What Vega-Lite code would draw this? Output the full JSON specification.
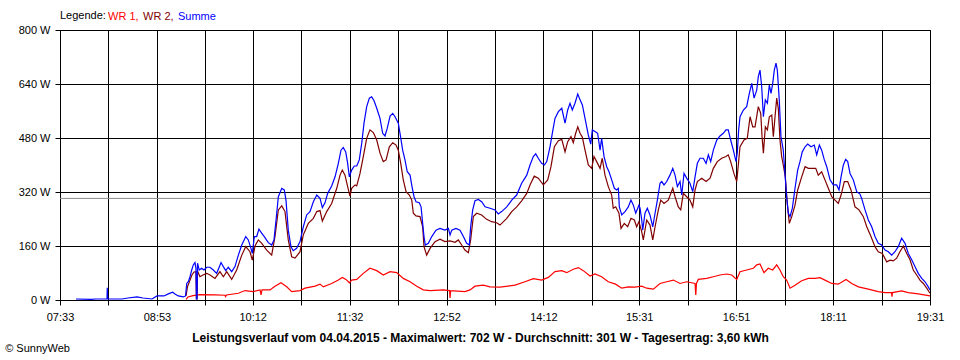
{
  "$schema": "https://vega.github.io/schema/vega-lite/v6.json",
  "width": 870,
  "height": 270,
  "autosize": {"type": "none"},
  "padding": {"left": 60, "top": 30, "right": 30, "bottom": 60},
  "background": "white",
  "config": {
    "font": "Liberation Sans",
    "view": {"stroke": "black", "strokeWidth": 1},
    "axis": {"labelFont": "Liberation Sans", "labelFontSize": 11, "labelColor": "black", "gridColor": "black", "gridOpacity": 1, "gridWidth": 1, "domainColor": "black", "tickColor": "black", "tickSize": 5, "tickWidth": 1, "domainWidth": 1}
  },
  "title": {"text": "© SunnyWeb", "orient": "bottom", "anchor": "start", "frame": "bounds", "fontSize": 11, "fontWeight": "normal", "font": "Liberation Sans", "color": "black", "offset": 0, "dx": -13},
  "layer": [
    {
      "data": {"values": [{"avg": 301}]},
      "mark": {"type": "rule", "color": "#8c8c8c", "strokeWidth": 1},
      "encoding": {"y": {"field": "avg", "type": "quantitative", "scale": {"domain": [0, 800]}}}
    },
    {
      "data": {"values": [
{"s":"WR 1","t":557.0,"w":2},{"s":"WR 1","t":558.6,"w":9},{"s":"WR 1","t":562.8,"w":13},{"s":"WR 1","t":568.5,"w":16},{"s":"WR 1","t":580.9,"w":15},{"s":"WR 1","t":589.2,"w":14},{"s":"WR 1","t":589.6,"w":10},{"s":"WR 1","t":590.4,"w":15},{"s":"WR 1","t":600.2,"w":20},{"s":"WR 1","t":605.7,"w":28},{"s":"WR 1","t":612.5,"w":25},{"s":"WR 1","t":618.1,"w":30},{"s":"WR 1","t":618.9,"w":15},{"s":"WR 1","t":619.7,"w":30},{"s":"WR 1","t":626.3,"w":30},{"s":"WR 1","t":630.4,"w":41},{"s":"WR 1","t":635.4,"w":51},{"s":"WR 1","t":640.1,"w":39},{"s":"WR 1","t":644.2,"w":25},{"s":"WR 1","t":651.1,"w":28},{"s":"WR 1","t":655.2,"w":35},{"s":"WR 1","t":663.5,"w":41},{"s":"WR 1","t":667.6,"w":47},{"s":"WR 1","t":670.3,"w":39},{"s":"WR 1","t":677.2,"w":49},{"s":"WR 1","t":682.7,"w":59},{"s":"WR 1","t":686.0,"w":67},{"s":"WR 1","t":689.0,"w":61},{"s":"WR 1","t":691.8,"w":51},{"s":"WR 1","t":693.7,"w":59},{"s":"WR 1","t":697.9,"w":61},{"s":"WR 1","t":703.3,"w":79},{"s":"WR 1","t":708.8,"w":94},{"s":"WR 1","t":714.4,"w":87},{"s":"WR 1","t":719.8,"w":74},{"s":"WR 1","t":725.4,"w":84},{"s":"WR 1","t":730.9,"w":81},{"s":"WR 1","t":736.3,"w":64},{"s":"WR 1","t":741.9,"w":54},{"s":"WR 1","t":747.4,"w":41},{"s":"WR 1","t":752.8,"w":30},{"s":"WR 1","t":758.4,"w":28},{"s":"WR 1","t":769.3,"w":30},{"s":"WR 1","t":774.5,"w":28},{"s":"WR 1","t":774.9,"w":6},{"s":"WR 1","t":775.4,"w":28},{"s":"WR 1","t":787.2,"w":25},{"s":"WR 1","t":791.4,"w":30},{"s":"WR 1","t":795.5,"w":41},{"s":"WR 1","t":802.4,"w":44},{"s":"WR 1","t":807.9,"w":39},{"s":"WR 1","t":816.1,"w":38},{"s":"WR 1","t":828.5,"w":44},{"s":"WR 1","t":836.7,"w":54},{"s":"WR 1","t":843.6,"w":63},{"s":"WR 1","t":850.5,"w":59},{"s":"WR 1","t":856.0,"w":67},{"s":"WR 1","t":861.5,"w":84},{"s":"WR 1","t":867.1,"w":87},{"s":"WR 1","t":871.2,"w":81},{"s":"WR 1","t":876.6,"w":91},{"s":"WR 1","t":880.8,"w":96},{"s":"WR 1","t":884.9,"w":87},{"s":"WR 1","t":890.4,"w":71},{"s":"WR 1","t":894.5,"w":77},{"s":"WR 1","t":900.0,"w":69},{"s":"WR 1","t":905.5,"w":54},{"s":"WR 1","t":911.5,"w":47},{"s":"WR 1","t":916.6,"w":35},{"s":"WR 1","t":922.0,"w":39},{"s":"WR 1","t":927.5,"w":38},{"s":"WR 1","t":933.1,"w":41},{"s":"WR 1","t":937.2,"w":35},{"s":"WR 1","t":942.7,"w":32},{"s":"WR 1","t":948.2,"w":49},{"s":"WR 1","t":953.7,"w":54},{"s":"WR 1","t":959.2,"w":59},{"s":"WR 1","t":964.7,"w":49},{"s":"WR 1","t":970.2,"w":54},{"s":"WR 1","t":977.1,"w":49},{"s":"WR 1","t":977.7,"w":15},{"s":"WR 1","t":978.3,"w":50},{"s":"WR 1","t":979.8,"w":61},{"s":"WR 1","t":986.7,"w":64},{"s":"WR 1","t":992.2,"w":69},{"s":"WR 1","t":997.7,"w":74},{"s":"WR 1","t":1003.2,"w":77},{"s":"WR 1","t":1007.4,"w":74},{"s":"WR 1","t":1011.5,"w":61},{"s":"WR 1","t":1014.2,"w":84},{"s":"WR 1","t":1019.7,"w":89},{"s":"WR 1","t":1025.2,"w":94},{"s":"WR 1","t":1028.0,"w":104},{"s":"WR 1","t":1030.7,"w":107},{"s":"WR 1","t":1034.0,"w":81},{"s":"WR 1","t":1037.5,"w":94},{"s":"WR 1","t":1041.2,"w":89},{"s":"WR 1","t":1044.5,"w":104},{"s":"WR 1","t":1047.2,"w":89},{"s":"WR 1","t":1049.9,"w":69},{"s":"WR 1","t":1052.7,"w":59},{"s":"WR 1","t":1055.5,"w":35},{"s":"WR 1","t":1059.6,"w":44},{"s":"WR 1","t":1065.1,"w":57},{"s":"WR 1","t":1070.6,"w":64},{"s":"WR 1","t":1076.1,"w":64},{"s":"WR 1","t":1080.2,"w":66},{"s":"WR 1","t":1084.3,"w":59},{"s":"WR 1","t":1089.9,"w":49},{"s":"WR 1","t":1095.3,"w":47},{"s":"WR 1","t":1101.7,"w":61},{"s":"WR 1","t":1106.4,"w":49},{"s":"WR 1","t":1111.9,"w":39},{"s":"WR 1","t":1120.1,"w":32},{"s":"WR 1","t":1128.3,"w":25},{"s":"WR 1","t":1133.9,"w":22},{"s":"WR 1","t":1139.2,"w":22},{"s":"WR 1","t":1139.6,"w":10},{"s":"WR 1","t":1140.0,"w":22},{"s":"WR 1","t":1147.6,"w":27},{"s":"WR 1","t":1153.1,"w":22},{"s":"WR 1","t":1161.3,"w":18},{"s":"WR 1","t":1171.0,"w":12},
{"s":"WR 2","t":557.0,"w":12},{"s":"WR 2","t":558.2,"w":39},{"s":"WR 2","t":560.3,"w":59},{"s":"WR 2","t":561.9,"w":74},{"s":"WR 2","t":563.6,"w":83},{"s":"WR 2","t":565.2,"w":84},{"s":"WR 2","t":565.6,"w":3},{"s":"WR 2","t":566.1,"w":3},{"s":"WR 2","t":566.5,"w":86},{"s":"WR 2","t":568.5,"w":69},{"s":"WR 2","t":571.0,"w":74},{"s":"WR 2","t":574.1,"w":79},{"s":"WR 2","t":576.8,"w":74},{"s":"WR 2","t":580.9,"w":64},{"s":"WR 2","t":585.0,"w":84},{"s":"WR 2","t":587.8,"w":69},{"s":"WR 2","t":590.6,"w":84},{"s":"WR 2","t":594.7,"w":61},{"s":"WR 2","t":598.8,"w":89},{"s":"WR 2","t":603.0,"w":133},{"s":"WR 2","t":606.3,"w":158},{"s":"WR 2","t":609.8,"w":143},{"s":"WR 2","t":611.7,"w":118},{"s":"WR 2","t":614.0,"w":161},{"s":"WR 2","t":616.7,"w":178},{"s":"WR 2","t":619.5,"w":168},{"s":"WR 2","t":623.6,"w":148},{"s":"WR 2","t":627.7,"w":133},{"s":"WR 2","t":630.4,"w":188},{"s":"WR 2","t":633.2,"w":267},{"s":"WR 2","t":636.0,"w":279},{"s":"WR 2","t":638.7,"w":262},{"s":"WR 2","t":641.4,"w":178},{"s":"WR 2","t":644.2,"w":128},{"s":"WR 2","t":647.0,"w":124},{"s":"WR 2","t":651.1,"w":143},{"s":"WR 2","t":653.8,"w":193},{"s":"WR 2","t":657.9,"w":227},{"s":"WR 2","t":662.1,"w":242},{"s":"WR 2","t":664.9,"w":262},{"s":"WR 2","t":667.6,"w":265},{"s":"WR 2","t":669.5,"w":234},{"s":"WR 2","t":673.1,"w":262},{"s":"WR 2","t":677.2,"w":286},{"s":"WR 2","t":681.4,"w":331},{"s":"WR 2","t":684.1,"w":370},{"s":"WR 2","t":686.0,"w":385},{"s":"WR 2","t":688.2,"w":370},{"s":"WR 2","t":690.4,"w":336},{"s":"WR 2","t":692.3,"w":308},{"s":"WR 2","t":693.7,"w":331},{"s":"WR 2","t":696.5,"w":341},{"s":"WR 2","t":697.9,"w":338},{"s":"WR 2","t":700.6,"w":375},{"s":"WR 2","t":703.3,"w":425},{"s":"WR 2","t":706.1,"w":479},{"s":"WR 2","t":708.8,"w":504},{"s":"WR 2","t":711.6,"w":496},{"s":"WR 2","t":714.4,"w":474},{"s":"WR 2","t":717.1,"w":435},{"s":"WR 2","t":719.8,"w":410},{"s":"WR 2","t":722.1,"w":415},{"s":"WR 2","t":724.8,"w":454},{"s":"WR 2","t":727.6,"w":466},{"s":"WR 2","t":730.3,"w":459},{"s":"WR 2","t":732.2,"w":444},{"s":"WR 2","t":734.2,"w":405},{"s":"WR 2","t":736.3,"w":356},{"s":"WR 2","t":738.6,"w":321},{"s":"WR 2","t":741.3,"w":311},{"s":"WR 2","t":743.3,"w":296},{"s":"WR 2","t":744.6,"w":257},{"s":"WR 2","t":746.8,"w":249},{"s":"WR 2","t":750.1,"w":247},{"s":"WR 2","t":752.3,"w":217},{"s":"WR 2","t":753.4,"w":158},{"s":"WR 2","t":755.6,"w":133},{"s":"WR 2","t":758.4,"w":153},{"s":"WR 2","t":762.5,"w":173},{"s":"WR 2","t":766.6,"w":180},{"s":"WR 2","t":770.7,"w":173},{"s":"WR 2","t":774.9,"w":175},{"s":"WR 2","t":779.0,"w":171},{"s":"WR 2","t":781.7,"w":178},{"s":"WR 2","t":784.5,"w":163},{"s":"WR 2","t":787.2,"w":148},{"s":"WR 2","t":790.0,"w":140},{"s":"WR 2","t":791.9,"w":178},{"s":"WR 2","t":794.1,"w":247},{"s":"WR 2","t":796.9,"w":257},{"s":"WR 2","t":801.0,"w":252},{"s":"WR 2","t":805.1,"w":239},{"s":"WR 2","t":809.3,"w":232},{"s":"WR 2","t":813.4,"w":229},{"s":"WR 2","t":816.1,"w":222},{"s":"WR 2","t":821.7,"w":242},{"s":"WR 2","t":825.8,"w":262},{"s":"WR 2","t":829.9,"w":276},{"s":"WR 2","t":834.0,"w":294},{"s":"WR 2","t":838.2,"w":316},{"s":"WR 2","t":840.9,"w":341},{"s":"WR 2","t":844.4,"w":367},{"s":"WR 2","t":847.7,"w":361},{"s":"WR 2","t":851.9,"w":341},{"s":"WR 2","t":855.5,"w":356},{"s":"WR 2","t":858.2,"w":395},{"s":"WR 2","t":861.0,"w":454},{"s":"WR 2","t":864.3,"w":472},{"s":"WR 2","t":867.1,"w":476},{"s":"WR 2","t":869.8,"w":439},{"s":"WR 2","t":872.0,"w":469},{"s":"WR 2","t":874.7,"w":484},{"s":"WR 2","t":876.6,"w":466},{"s":"WR 2","t":878.6,"w":494},{"s":"WR 2","t":880.3,"w":513},{"s":"WR 2","t":882.2,"w":494},{"s":"WR 2","t":884.1,"w":482},{"s":"WR 2","t":886.3,"w":444},{"s":"WR 2","t":889.0,"w":400},{"s":"WR 2","t":891.8,"w":390},{"s":"WR 2","t":893.7,"w":425},{"s":"WR 2","t":895.9,"w":410},{"s":"WR 2","t":898.7,"w":390},{"s":"WR 2","t":900.5,"w":420},{"s":"WR 2","t":902.8,"w":370},{"s":"WR 2","t":905.5,"w":336},{"s":"WR 2","t":908.3,"w":311},{"s":"WR 2","t":909.6,"w":272},{"s":"WR 2","t":911.6,"w":276},{"s":"WR 2","t":914.3,"w":257},{"s":"WR 2","t":916.0,"w":212},{"s":"WR 2","t":918.7,"w":227},{"s":"WR 2","t":921.5,"w":217},{"s":"WR 2","t":924.2,"w":242},{"s":"WR 2","t":927.0,"w":237},{"s":"WR 2","t":928.9,"w":217},{"s":"WR 2","t":930.8,"w":232},{"s":"WR 2","t":933.1,"w":202},{"s":"WR 2","t":934.4,"w":178},{"s":"WR 2","t":937.2,"w":237},{"s":"WR 2","t":939.9,"w":222},{"s":"WR 2","t":942.2,"w":178},{"s":"WR 2","t":944.1,"w":217},{"s":"WR 2","t":946.8,"w":267},{"s":"WR 2","t":948.8,"w":296},{"s":"WR 2","t":951.5,"w":286},{"s":"WR 2","t":955.0,"w":296},{"s":"WR 2","t":958.7,"w":331},{"s":"WR 2","t":960.6,"w":306},{"s":"WR 2","t":963.3,"w":276},{"s":"WR 2","t":965.3,"w":267},{"s":"WR 2","t":967.4,"w":316},{"s":"WR 2","t":970.2,"w":306},{"s":"WR 2","t":972.9,"w":296},{"s":"WR 2","t":975.2,"w":276},{"s":"WR 2","t":977.1,"w":326},{"s":"WR 2","t":979.0,"w":351},{"s":"WR 2","t":982.6,"w":361},{"s":"WR 2","t":986.2,"w":351},{"s":"WR 2","t":989.5,"w":361},{"s":"WR 2","t":992.2,"w":390},{"s":"WR 2","t":995.5,"w":410},{"s":"WR 2","t":999.1,"w":420},{"s":"WR 2","t":1002.6,"w":425},{"s":"WR 2","t":1004.5,"w":430},{"s":"WR 2","t":1006.5,"w":410},{"s":"WR 2","t":1009.2,"w":375},{"s":"WR 2","t":1011.5,"w":351},{"s":"WR 2","t":1012.8,"w":400},{"s":"WR 2","t":1014.2,"w":454},{"s":"WR 2","t":1017.5,"w":474},{"s":"WR 2","t":1020.2,"w":479},{"s":"WR 2","t":1022.5,"w":543},{"s":"WR 2","t":1024.7,"w":513},{"s":"WR 2","t":1026.6,"w":513},{"s":"WR 2","t":1029.3,"w":573},{"s":"WR 2","t":1031.3,"w":553},{"s":"WR 2","t":1032.4,"w":484},{"s":"WR 2","t":1033.5,"w":435},{"s":"WR 2","t":1035.1,"w":513},{"s":"WR 2","t":1036.8,"w":504},{"s":"WR 2","t":1038.4,"w":543},{"s":"WR 2","t":1040.4,"w":548},{"s":"WR 2","t":1041.7,"w":484},{"s":"WR 2","t":1043.1,"w":543},{"s":"WR 2","t":1044.5,"w":598},{"s":"WR 2","t":1045.8,"w":568},{"s":"WR 2","t":1047.2,"w":474},{"s":"WR 2","t":1048.6,"w":425},{"s":"WR 2","t":1049.9,"w":400},{"s":"WR 2","t":1051.6,"w":365},{"s":"WR 2","t":1053.2,"w":286},{"s":"WR 2","t":1054.9,"w":227},{"s":"WR 2","t":1056.9,"w":247},{"s":"WR 2","t":1059.6,"w":281},{"s":"WR 2","t":1061.8,"w":326},{"s":"WR 2","t":1065.1,"w":365},{"s":"WR 2","t":1067.9,"w":395},{"s":"WR 2","t":1070.6,"w":390},{"s":"WR 2","t":1073.4,"w":390},{"s":"WR 2","t":1076.7,"w":390},{"s":"WR 2","t":1078.8,"w":370},{"s":"WR 2","t":1081.6,"w":380},{"s":"WR 2","t":1084.3,"w":356},{"s":"WR 2","t":1087.1,"w":331},{"s":"WR 2","t":1089.9,"w":306},{"s":"WR 2","t":1092.6,"w":296},{"s":"WR 2","t":1095.3,"w":286},{"s":"WR 2","t":1097.6,"w":311},{"s":"WR 2","t":1100.3,"w":351},{"s":"WR 2","t":1103.1,"w":351},{"s":"WR 2","t":1105.8,"w":326},{"s":"WR 2","t":1109.1,"w":276},{"s":"WR 2","t":1112.4,"w":267},{"s":"WR 2","t":1116.0,"w":247},{"s":"WR 2","t":1118.8,"w":217},{"s":"WR 2","t":1122.3,"w":188},{"s":"WR 2","t":1125.6,"w":158},{"s":"WR 2","t":1128.3,"w":143},{"s":"WR 2","t":1131.6,"w":138},{"s":"WR 2","t":1135.3,"w":113},{"s":"WR 2","t":1138.0,"w":118},{"s":"WR 2","t":1140.7,"w":116},{"s":"WR 2","t":1143.5,"w":124},{"s":"WR 2","t":1146.2,"w":143},{"s":"WR 2","t":1149.0,"w":160},{"s":"WR 2","t":1151.8,"w":138},{"s":"WR 2","t":1154.5,"w":119},{"s":"WR 2","t":1157.2,"w":89},{"s":"WR 2","t":1160.0,"w":74},{"s":"WR 2","t":1162.7,"w":59},{"s":"WR 2","t":1165.5,"w":49},{"s":"WR 2","t":1168.3,"w":35},{"s":"WR 2","t":1171.0,"w":20},
{"s":"Summe","t":466.2,"w":3},{"s":"Summe","t":478.6,"w":2},{"s":"Summe","t":482.7,"w":3},{"s":"Summe","t":491.0,"w":3},{"s":"Summe","t":491.8,"w":3},{"s":"Summe","t":492.0,"w":36},{"s":"Summe","t":492.4,"w":3},{"s":"Summe","t":498.4,"w":3},{"s":"Summe","t":504.2,"w":3},{"s":"Summe","t":509.1,"w":6},{"s":"Summe","t":516.5,"w":9},{"s":"Summe","t":521.5,"w":6},{"s":"Summe","t":528.9,"w":3},{"s":"Summe","t":533.1,"w":12},{"s":"Summe","t":538.8,"w":12},{"s":"Summe","t":542.4,"w":18},{"s":"Summe","t":546.0,"w":23},{"s":"Summe","t":547.9,"w":18},{"s":"Summe","t":550.6,"w":12},{"s":"Summe","t":554.8,"w":9},{"s":"Summe","t":556.6,"w":12},{"s":"Summe","t":557.6,"w":49},{"s":"Summe","t":558.9,"w":54},{"s":"Summe","t":560.3,"w":69},{"s":"Summe","t":561.7,"w":89},{"s":"Summe","t":563.0,"w":104},{"s":"Summe","t":564.4,"w":111},{"s":"Summe","t":565.2,"w":94},{"s":"Summe","t":565.6,"w":3},{"s":"Summe","t":566.1,"w":3},{"s":"Summe","t":566.5,"w":109},{"s":"Summe","t":567.9,"w":89},{"s":"Summe","t":569.9,"w":94},{"s":"Summe","t":571.8,"w":89},{"s":"Summe","t":574.1,"w":97},{"s":"Summe","t":576.8,"w":97},{"s":"Summe","t":579.5,"w":89},{"s":"Summe","t":582.3,"w":79},{"s":"Summe","t":585.9,"w":111},{"s":"Summe","t":587.8,"w":99},{"s":"Summe","t":589.8,"w":87},{"s":"Summe","t":591.9,"w":97},{"s":"Summe","t":594.7,"w":84},{"s":"Summe","t":597.4,"w":99},{"s":"Summe","t":600.2,"w":133},{"s":"Summe","t":603.0,"w":163},{"s":"Summe","t":606.3,"w":188},{"s":"Summe","t":608.4,"w":178},{"s":"Summe","t":610.6,"w":153},{"s":"Summe","t":611.7,"w":138},{"s":"Summe","t":613.4,"w":188},{"s":"Summe","t":615.3,"w":188},{"s":"Summe","t":617.2,"w":210},{"s":"Summe","t":619.4,"w":198},{"s":"Summe","t":621.6,"w":188},{"s":"Summe","t":624.9,"w":170},{"s":"Summe","t":627.7,"w":163},{"s":"Summe","t":629.6,"w":178},{"s":"Summe","t":631.3,"w":237},{"s":"Summe","t":633.2,"w":306},{"s":"Summe","t":636.0,"w":331},{"s":"Summe","t":638.1,"w":326},{"s":"Summe","t":639.5,"w":296},{"s":"Summe","t":641.4,"w":207},{"s":"Summe","t":643.6,"w":158},{"s":"Summe","t":645.5,"w":146},{"s":"Summe","t":648.3,"w":153},{"s":"Summe","t":651.1,"w":173},{"s":"Summe","t":653.8,"w":217},{"s":"Summe","t":656.6,"w":252},{"s":"Summe","t":659.3,"w":262},{"s":"Summe","t":662.1,"w":291},{"s":"Summe","t":664.9,"w":311},{"s":"Summe","t":667.6,"w":301},{"s":"Summe","t":669.5,"w":274},{"s":"Summe","t":671.7,"w":288},{"s":"Summe","t":673.9,"w":316},{"s":"Summe","t":677.2,"w":338},{"s":"Summe","t":680.0,"w":365},{"s":"Summe","t":682.7,"w":405},{"s":"Summe","t":684.9,"w":444},{"s":"Summe","t":686.8,"w":452},{"s":"Summe","t":688.8,"w":439},{"s":"Summe","t":690.4,"w":405},{"s":"Summe","t":691.8,"w":365},{"s":"Summe","t":693.7,"w":385},{"s":"Summe","t":695.9,"w":397},{"s":"Summe","t":697.9,"w":397},{"s":"Summe","t":700.0,"w":415},{"s":"Summe","t":702.0,"w":464},{"s":"Summe","t":703.9,"w":524},{"s":"Summe","t":706.1,"w":573},{"s":"Summe","t":708.3,"w":598},{"s":"Summe","t":710.2,"w":602},{"s":"Summe","t":712.1,"w":591},{"s":"Summe","t":714.4,"w":568},{"s":"Summe","t":717.1,"w":538},{"s":"Summe","t":719.3,"w":494},{"s":"Summe","t":721.2,"w":486},{"s":"Summe","t":723.1,"w":509},{"s":"Summe","t":725.4,"w":545},{"s":"Summe","t":727.6,"w":553},{"s":"Summe","t":729.5,"w":543},{"s":"Summe","t":732.2,"w":524},{"s":"Summe","t":733.6,"w":494},{"s":"Summe","t":735.8,"w":444},{"s":"Summe","t":737.7,"w":415},{"s":"Summe","t":739.6,"w":380},{"s":"Summe","t":741.9,"w":370},{"s":"Summe","t":743.5,"w":336},{"s":"Summe","t":745.2,"w":306},{"s":"Summe","t":746.8,"w":291},{"s":"Summe","t":749.5,"w":288},{"s":"Summe","t":751.0,"w":276},{"s":"Summe","t":752.3,"w":227},{"s":"Summe","t":753.4,"w":188},{"s":"Summe","t":754.5,"w":163},{"s":"Summe","t":757.0,"w":168},{"s":"Summe","t":759.8,"w":188},{"s":"Summe","t":763.3,"w":207},{"s":"Summe","t":766.6,"w":212},{"s":"Summe","t":770.7,"w":207},{"s":"Summe","t":773.5,"w":212},{"s":"Summe","t":774.9,"w":193},{"s":"Summe","t":776.3,"w":207},{"s":"Summe","t":779.8,"w":212},{"s":"Summe","t":783.1,"w":207},{"s":"Summe","t":785.9,"w":188},{"s":"Summe","t":788.6,"w":168},{"s":"Summe","t":790.8,"w":163},{"s":"Summe","t":791.9,"w":217},{"s":"Summe","t":793.6,"w":267},{"s":"Summe","t":795.5,"w":294},{"s":"Summe","t":798.2,"w":298},{"s":"Summe","t":801.0,"w":291},{"s":"Summe","t":803.8,"w":276},{"s":"Summe","t":807.9,"w":272},{"s":"Summe","t":812.0,"w":267},{"s":"Summe","t":814.7,"w":255},{"s":"Summe","t":817.5,"w":262},{"s":"Summe","t":821.7,"w":276},{"s":"Summe","t":825.8,"w":296},{"s":"Summe","t":829.9,"w":311},{"s":"Summe","t":834.0,"w":346},{"s":"Summe","t":838.2,"w":370},{"s":"Summe","t":840.9,"w":400},{"s":"Summe","t":843.6,"w":425},{"s":"Summe","t":845.6,"w":433},{"s":"Summe","t":847.7,"w":420},{"s":"Summe","t":850.5,"w":405},{"s":"Summe","t":852.7,"w":400},{"s":"Summe","t":854.7,"w":410},{"s":"Summe","t":857.4,"w":454},{"s":"Summe","t":859.3,"w":494},{"s":"Summe","t":861.5,"w":538},{"s":"Summe","t":864.3,"w":558},{"s":"Summe","t":867.1,"w":568},{"s":"Summe","t":869.8,"w":524},{"s":"Summe","t":872.0,"w":563},{"s":"Summe","t":873.9,"w":583},{"s":"Summe","t":875.8,"w":563},{"s":"Summe","t":878.0,"w":583},{"s":"Summe","t":880.3,"w":610},{"s":"Summe","t":882.2,"w":593},{"s":"Summe","t":884.1,"w":578},{"s":"Summe","t":886.3,"w":538},{"s":"Summe","t":889.0,"w":489},{"s":"Summe","t":891.0,"w":462},{"s":"Summe","t":892.3,"w":504},{"s":"Summe","t":894.5,"w":499},{"s":"Summe","t":896.7,"w":494},{"s":"Summe","t":898.7,"w":444},{"s":"Summe","t":900.0,"w":479},{"s":"Summe","t":902.0,"w":425},{"s":"Summe","t":904.2,"w":395},{"s":"Summe","t":906.1,"w":380},{"s":"Summe","t":908.3,"w":356},{"s":"Summe","t":910.5,"w":331},{"s":"Summe","t":912.4,"w":326},{"s":"Summe","t":913.8,"w":331},{"s":"Summe","t":914.6,"w":276},{"s":"Summe","t":916.6,"w":252},{"s":"Summe","t":919.3,"w":262},{"s":"Summe","t":922.0,"w":276},{"s":"Summe","t":924.2,"w":296},{"s":"Summe","t":926.2,"w":281},{"s":"Summe","t":928.1,"w":257},{"s":"Summe","t":930.8,"w":281},{"s":"Summe","t":931.7,"w":272},{"s":"Summe","t":933.1,"w":237},{"s":"Summe","t":933.9,"w":207},{"s":"Summe","t":935.8,"w":257},{"s":"Summe","t":937.7,"w":272},{"s":"Summe","t":939.9,"w":252},{"s":"Summe","t":942.2,"w":217},{"s":"Summe","t":944.1,"w":257},{"s":"Summe","t":946.0,"w":296},{"s":"Summe","t":948.2,"w":346},{"s":"Summe","t":949.6,"w":351},{"s":"Summe","t":951.5,"w":341},{"s":"Summe","t":953.7,"w":351},{"s":"Summe","t":956.4,"w":370},{"s":"Summe","t":958.7,"w":390},{"s":"Summe","t":960.6,"w":370},{"s":"Summe","t":962.5,"w":336},{"s":"Summe","t":964.7,"w":351},{"s":"Summe","t":966.1,"w":311},{"s":"Summe","t":968.0,"w":375},{"s":"Summe","t":970.2,"w":361},{"s":"Summe","t":972.9,"w":346},{"s":"Summe","t":975.2,"w":321},{"s":"Summe","t":977.1,"w":365},{"s":"Summe","t":979.0,"w":405},{"s":"Summe","t":981.2,"w":420},{"s":"Summe","t":983.9,"w":420},{"s":"Summe","t":986.2,"w":405},{"s":"Summe","t":988.1,"w":430},{"s":"Summe","t":990.0,"w":410},{"s":"Summe","t":992.2,"w":444},{"s":"Summe","t":995.0,"w":474},{"s":"Summe","t":997.7,"w":486},{"s":"Summe","t":1000.4,"w":494},{"s":"Summe","t":1002.6,"w":504},{"s":"Summe","t":1004.5,"w":504},{"s":"Summe","t":1006.5,"w":474},{"s":"Summe","t":1008.7,"w":444},{"s":"Summe","t":1010.9,"w":410},{"s":"Summe","t":1012.0,"w":439},{"s":"Summe","t":1013.1,"w":504},{"s":"Summe","t":1014.2,"w":543},{"s":"Summe","t":1017.0,"w":563},{"s":"Summe","t":1019.7,"w":573},{"s":"Summe","t":1021.9,"w":612},{"s":"Summe","t":1023.9,"w":642},{"s":"Summe","t":1025.8,"w":598},{"s":"Summe","t":1028.0,"w":622},{"s":"Summe","t":1029.3,"w":662},{"s":"Summe","t":1030.7,"w":681},{"s":"Summe","t":1032.1,"w":632},{"s":"Summe","t":1033.5,"w":543},{"s":"Summe","t":1035.1,"w":593},{"s":"Summe","t":1036.8,"w":583},{"s":"Summe","t":1038.4,"w":637},{"s":"Summe","t":1039.8,"w":612},{"s":"Summe","t":1041.2,"w":642},{"s":"Summe","t":1042.5,"w":681},{"s":"Summe","t":1043.9,"w":702},{"s":"Summe","t":1045.0,"w":681},{"s":"Summe","t":1046.6,"w":593},{"s":"Summe","t":1048.0,"w":484},{"s":"Summe","t":1049.9,"w":444},{"s":"Summe","t":1051.3,"w":375},{"s":"Summe","t":1052.7,"w":306},{"s":"Summe","t":1054.1,"w":257},{"s":"Summe","t":1055.5,"w":247},{"s":"Summe","t":1057.4,"w":272},{"s":"Summe","t":1059.6,"w":331},{"s":"Summe","t":1061.8,"w":385},{"s":"Summe","t":1063.7,"w":410},{"s":"Summe","t":1065.6,"w":439},{"s":"Summe","t":1067.9,"w":454},{"s":"Summe","t":1070.1,"w":462},{"s":"Summe","t":1072.8,"w":454},{"s":"Summe","t":1075.5,"w":459},{"s":"Summe","t":1077.5,"w":430},{"s":"Summe","t":1079.7,"w":459},{"s":"Summe","t":1081.6,"w":444},{"s":"Summe","t":1083.8,"w":415},{"s":"Summe","t":1085.8,"w":395},{"s":"Summe","t":1088.5,"w":356},{"s":"Summe","t":1091.2,"w":341},{"s":"Summe","t":1094.0,"w":341},{"s":"Summe","t":1095.9,"w":326},{"s":"Summe","t":1097.6,"w":365},{"s":"Summe","t":1099.5,"w":400},{"s":"Summe","t":1101.4,"w":417},{"s":"Summe","t":1103.1,"w":410},{"s":"Summe","t":1105.0,"w":375},{"s":"Summe","t":1107.7,"w":356},{"s":"Summe","t":1110.5,"w":321},{"s":"Summe","t":1113.2,"w":314},{"s":"Summe","t":1114.6,"w":301},{"s":"Summe","t":1117.4,"w":267},{"s":"Summe","t":1120.1,"w":237},{"s":"Summe","t":1122.9,"w":217},{"s":"Summe","t":1125.6,"w":188},{"s":"Summe","t":1128.3,"w":168},{"s":"Summe","t":1131.1,"w":163},{"s":"Summe","t":1133.9,"w":148},{"s":"Summe","t":1136.6,"w":143},{"s":"Summe","t":1139.4,"w":133},{"s":"Summe","t":1142.1,"w":143},{"s":"Summe","t":1144.8,"w":158},{"s":"Summe","t":1147.6,"w":183},{"s":"Summe","t":1150.4,"w":168},{"s":"Summe","t":1153.1,"w":138},{"s":"Summe","t":1155.9,"w":119},{"s":"Summe","t":1158.6,"w":99},{"s":"Summe","t":1161.3,"w":79},{"s":"Summe","t":1164.2,"w":64},{"s":"Summe","t":1166.9,"w":54},{"s":"Summe","t":1169.6,"w":39},{"s":"Summe","t":1171.0,"w":30}
      ]},
      "mark": {"type": "line", "strokeWidth": 1.2, "clip": true},
      "encoding": {
        "x": {
          "field": "t", "type": "quantitative",
          "scale": {"domain": [453, 1171], "nice": false, "zero": false},
          "axis": {
            "values": [453, 493, 533, 573, 612, 652, 692, 732, 772, 812, 852, 892, 931, 971, 1011, 1051, 1091, 1131, 1171],
            "labelExpr": "indexof([453,533,612,692,772,852,931,1011,1091,1171], datum.value) >= 0 ? (floor(datum.value/60) < 10 ? '0' : '') + floor(datum.value/60) + ':' + (datum.value % 60 < 10 ? '0' : '') + (datum.value % 60) : ''",
            "labelOverlap": false, "labelFlush": false, "labelBound": false, "labelPadding": 6,
            "grid": true,
            "title": "Leistungsverlauf vom 04.04.2015 - Maximalwert: 702 W - Durchschnitt: 301 W - Tagesertrag: 3,60 kWh",
            "titleFont": "Liberation Sans", "titleFontSize": 12, "titleFontWeight": "bold", "titleColor": "black",
            "titleX": 420, "titleY": 37, "titleBaseline": "middle", "titleAlign": "center"
          }
        },
        "y": {
          "field": "w", "type": "quantitative",
          "scale": {"domain": [0, 800], "nice": false},
          "axis": {
            "values": [0, 160, 320, 480, 640, 800],
            "labelExpr": "datum.value + ' W'",
            "labelPadding": 5, "grid": true, "title": null
          }
        },
        "color": {
          "field": "s", "type": "nominal",
          "scale": {"domain": ["WR 1", "WR 2", "Summe"], "range": ["#ff0000", "#800000", "#0000ff"]},
          "legend": {
            "orient": "none", "legendX": 0, "legendY": -19, "direction": "horizontal", "padding": 0, "gridAlign": "none",
            "title": "Legende:", "titleOrient": "left", "titleFont": "Liberation Sans", "titleFontSize": 11, "titleFontWeight": "normal", "titleColor": "black", "titlePadding": 3, "titleBaseline": "middle",
            "labelFont": "Liberation Sans", "labelFontSize": 11,
            "labelColor": {"expr": "datum.value == 'WR 1' ? '#ff0000' : datum.value == 'WR 2' ? '#800000' : '#0000ff'"},
            "labelExpr": "datum.label == 'Summe' ? 'Summe' : datum.label + ','",
            "symbolSize": 0, "symbolStrokeWidth": 0, "symbolOpacity": 0, "labelOffset": -12, "columnPadding": 4
          }
        }
      }
    }
  ]
}
